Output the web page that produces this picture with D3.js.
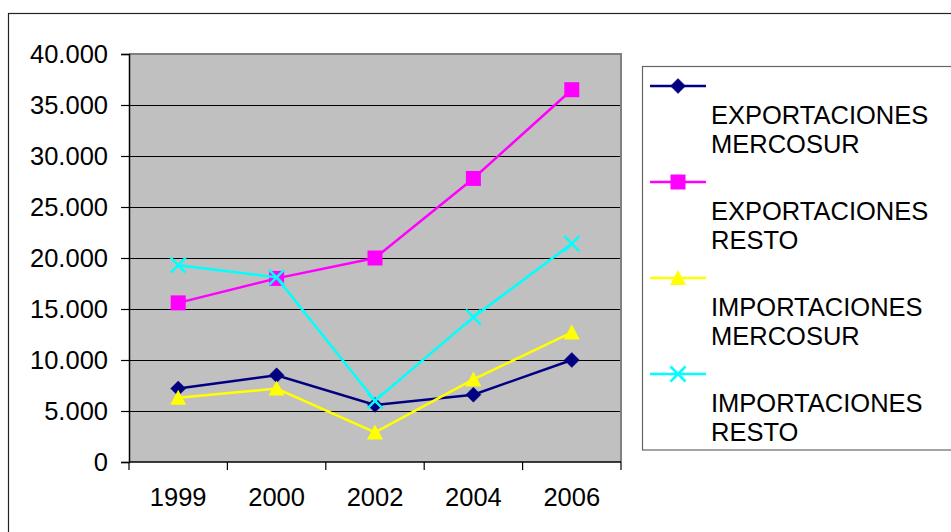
<!DOCTYPE html>
<html>
<head>
<meta charset="utf-8">
<script src="https://cdn.jsdelivr.net/npm/d3@7"></script>
<style>
  html, body { margin: 0; padding: 0; background: #fff; }
  svg { display: block; }
  text { font-family: "Liberation Sans", Arial, sans-serif; fill: #000; }
</style>
</head>
<body>
<svg id="chart" width="951" height="532"></svg>
<script>
const years = ["1999", "2000", "2002", "2004", "2006"];
const exportacionesMercosur = [7200, 8500, 5600, 6600, 10000];
const exportacionesResto = [15600, 18000, 20000, 27800, 36500];
const importacionesMercosur = [6300, 7200, 2900, 8100, 12700];
const importacionesResto = [19300, 18100, 6000, 14200, 21400];
const yTicks = [0, 5000, 10000, 15000, 20000, 25000, 30000, 35000, 40000];
const seriesNames = [
  ["EXPORTACIONES", "MERCOSUR"],
  ["EXPORTACIONES", "RESTO"],
  ["IMPORTACIONES", "MERCOSUR"],
  ["IMPORTACIONES", "RESTO"]
];
const seriesColors = ["#000080", "#FF00FF", "#FFFF00", "#00FFFF"];
const seriesMarkers = ["diamond", "square", "triangle", "x"];

const series = [exportacionesMercosur, exportacionesResto, importacionesMercosur, importacionesResto]
  .map((vals, i) => ({ values: vals, name: seriesNames[i], color: seriesColors[i], marker: seriesMarkers[i] }));

const svg = d3.select("#chart");
const FONT = "25.5px";

// outer chart border
svg.append("rect").attr("x", 8.5).attr("y", 13.5).attr("width", 1000).attr("height", 600)
  .attr("fill", "#fff").attr("stroke", "#222").attr("stroke-width", 1.2);

const plot = { left: 129, top: 54, right: 621, bottom: 462 };
const x = d3.scaleBand().domain(years).range([plot.left, plot.right]).paddingInner(0).paddingOuter(0);
const y = d3.scaleLinear().domain([0, 40000]).range([plot.bottom, plot.top]);

// plot background
svg.append("rect").attr("x", plot.left).attr("y", plot.top)
  .attr("width", plot.right - plot.left).attr("height", plot.bottom - plot.top)
  .attr("fill", "#C0C0C0");

// gridlines
svg.append("g").selectAll("line").data(yTicks.filter(t => t > 0 && t < 40000)).join("line")
  .attr("x1", plot.left).attr("x2", plot.right)
  .attr("y1", d => Math.round(y(d)) + 0.5).attr("y2", d => Math.round(y(d)) + 0.5)
  .attr("stroke", "#000").attr("stroke-width", 1);

// top & right gray border of plot area
svg.append("path")
  .attr("d", `M${plot.left},${plot.top} H${plot.right} V${plot.bottom}`)
  .attr("fill", "none").attr("stroke", "#808080").attr("stroke-width", 2);

// y axis
const loc = d3.formatLocale({ decimal: ",", thousands: ".", grouping: [3], currency: ["", ""] });
const fmt = loc.format(",d");
const yAxis = d3.axisLeft(y).tickValues(yTicks).tickFormat(fmt).tickSize(8).tickPadding(13);
const gy = svg.append("g").attr("transform", `translate(${plot.left},0)`).call(yAxis);
gy.select(".domain").attr("stroke", "#000").attr("stroke-width", 1.5);
gy.selectAll(".tick line").attr("stroke", "#000").attr("stroke-width", 1.2);
gy.selectAll(".tick text").style("font-size", FONT).style("font-family", "Liberation Sans, Arial, sans-serif").attr("fill", "#000");

// x axis (ticks at category boundaries)
const gx = svg.append("g").attr("transform", `translate(0,${plot.bottom})`);
gx.append("line").attr("x1", plot.left).attr("x2", plot.right).attr("y1", 0).attr("y2", 0)
  .attr("stroke", "#000").attr("stroke-width", 1.5);
const boundaries = years.map(d => x(d)).concat([x(years[years.length - 1]) + x.bandwidth()]);
gx.selectAll("line.tk").data(boundaries).join("line").attr("class", "tk")
  .attr("x1", d => d).attr("x2", d => d).attr("y1", 0).attr("y2", 8)
  .attr("stroke", "#000").attr("stroke-width", 1.2);
gx.selectAll("text").data(years).join("text")
  .attr("x", d => x(d) + x.bandwidth() / 2).attr("y", 43.5)
  .attr("text-anchor", "middle").style("font-size", FONT).text(d => d);

// marker drawing
function drawMarker(g, type, color, cx, cy) {
  if (type === "diamond") {
    g.append("path").attr("d", `M${cx},${cy - 7.5} L${cx + 7.5},${cy} L${cx},${cy + 7.5} L${cx - 7.5},${cy} Z`)
      .attr("fill", color).attr("stroke", color).attr("stroke-width", 0.5);
  } else if (type === "square") {
    g.append("rect").attr("x", cx - 7.5).attr("y", cy - 7.5).attr("width", 15).attr("height", 15)
      .attr("fill", color);
  } else if (type === "triangle") {
    g.append("path").attr("d", `M${cx},${cy - 8} L${cx + 8},${cy + 7} L${cx - 8},${cy + 7} Z`)
      .attr("fill", color);
  } else if (type === "x") {
    g.append("path").attr("d", `M${cx - 7.5},${cy - 7.5} L${cx + 7.5},${cy + 7.5} M${cx + 7.5},${cy - 7.5} L${cx - 7.5},${cy + 7.5}`)
      .attr("stroke", color).attr("stroke-width", 2.5).attr("fill", "none");
  }
}

// series lines and markers
const line = d3.line().x((d, i) => x(years[i]) + x.bandwidth() / 2).y(d => y(d));
series.forEach(s => {
  const g = svg.append("g");
  g.append("path").attr("d", line(s.values)).attr("fill", "none")
    .attr("stroke", s.color).attr("stroke-width", 2.5);
  s.values.forEach((v, i) => drawMarker(g, s.marker, s.color, x(years[i]) + x.bandwidth() / 2, y(v)));
});

// legend
const lg = svg.append("g");
lg.append("rect").attr("x", 642.5).attr("y", 66.5).attr("width", 400).attr("height", 383.5)
  .attr("fill", "#fff").attr("stroke", "#666").attr("stroke-width", 1.2);
series.forEach((s, i) => {
  const ly = 86 + 96 * i;
  lg.append("line").attr("x1", 650).attr("x2", 706).attr("y1", ly).attr("y2", ly)
    .attr("stroke", s.color).attr("stroke-width", 2.5);
  drawMarker(lg, s.marker, s.color, 678, ly);
  s.name.forEach((t, j) => {
    lg.append("text").attr("x", 711).attr("y", ly + 37.5 + 29.5 * j)
      .style("font-size", FONT).text(t);
  });
});
</script>
</body>
</html>
